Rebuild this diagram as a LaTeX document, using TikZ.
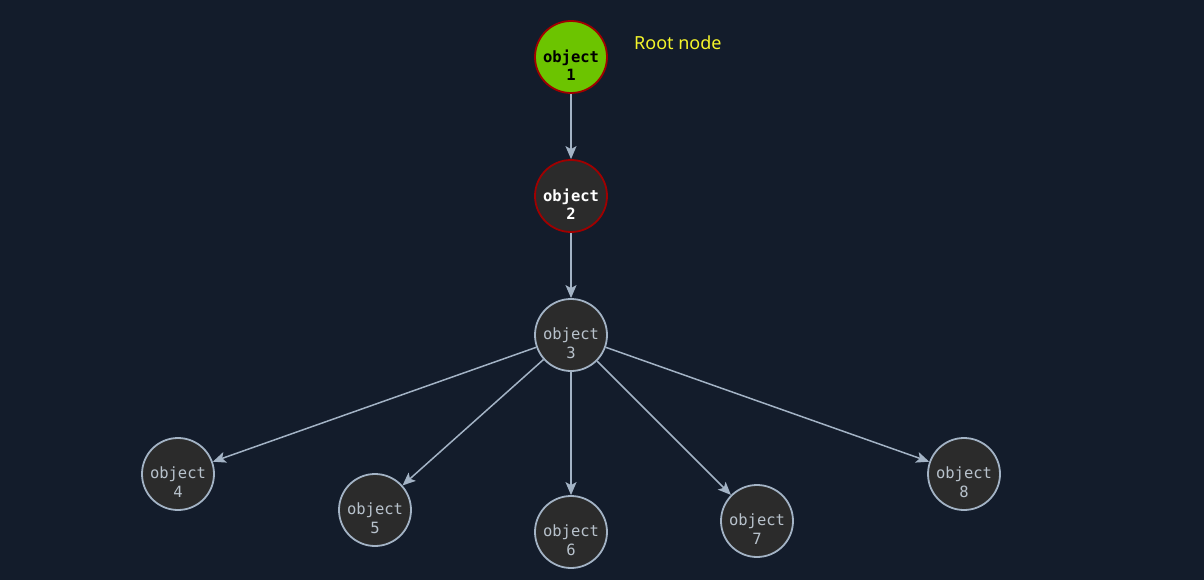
\documentclass[tikz,border=0pt]{standalone}
\usepackage{fontspec}
\setmonofont{DejaVu Sans Mono}
\newfontfamily\labfont{Noto Sans}
\usetikzlibrary{arrows.meta}
\definecolor{bg}{HTML}{131C2B}
\definecolor{nodefill}{HTML}{2B2B2B}
\definecolor{edgecol}{HTML}{A3B3C5}
\definecolor{rootgreen}{HTML}{6CC400}
\definecolor{redborder}{HTML}{A00000}
\definecolor{ntext}{HTML}{B8C2CC}
\definecolor{yel}{HTML}{F5F52A}
\begin{document}
\begin{tikzpicture}[x=1pt,y=-1pt,
  obj/.style={circle,minimum size=72pt,inner sep=0pt,draw=edgecol,line width=1.8pt,fill=nodefill},
  rootobj/.style={obj,fill=rootgreen,draw=redborder},
  redobj/.style={obj,draw=redborder},
  txt/.style={font=\ttfamily\fontsize{15.5}{18.5}\selectfont,align=center,text=ntext},
  btxt/.style={txt,font=\ttfamily\bfseries\fontsize{15.5}{18.5}\selectfont},
  edge/.style={draw=edgecol,line width=1.5pt,-{Stealth[length=13pt,width=11pt,inset=3pt]}}]
\fill[bg] (0,0) rectangle (1204,580);
\useasboundingbox (0,0) rectangle (1204,580);
\node[rootobj,label={[btxt,text=black,yshift=-8pt]center:object\\1}] (n1) at (571,57) {};
\node[redobj,label={[btxt,text=white,yshift=-8pt]center:object\\2}] (n2) at (571,196) {};
\node[obj,label={[txt,yshift=-8pt]center:object\\3}] (n3) at (571,335) {};
\node[obj,label={[txt,yshift=-8pt]center:object\\4}] (n4) at (178,474) {};
\node[obj,label={[txt,yshift=-8pt]center:object\\5}] (n5) at (375,510) {};
\node[obj,label={[txt,yshift=-8pt]center:object\\6}] (n6) at (571,532) {};
\node[obj,label={[txt,yshift=-8pt]center:object\\7}] (n7) at (757,521) {};
\node[obj,label={[txt,yshift=-8pt]center:object\\8}] (n8) at (964,474) {};
\node[font=\labfont\fontsize{18}{21}\selectfont,text=yel,anchor=west,inner sep=0pt] (root) at (634,43) {Root node};
\draw[edge] (n1) -- (n2);
\draw[edge] (n2) -- (n3);
\draw[edge] (n3) -- (n4);
\draw[edge] (n3) -- (n5);
\draw[edge] (n3) -- (n6);
\draw[edge] (n3) -- (n7);
\draw[edge] (n3) -- (n8);
\end{tikzpicture}
\end{document}
